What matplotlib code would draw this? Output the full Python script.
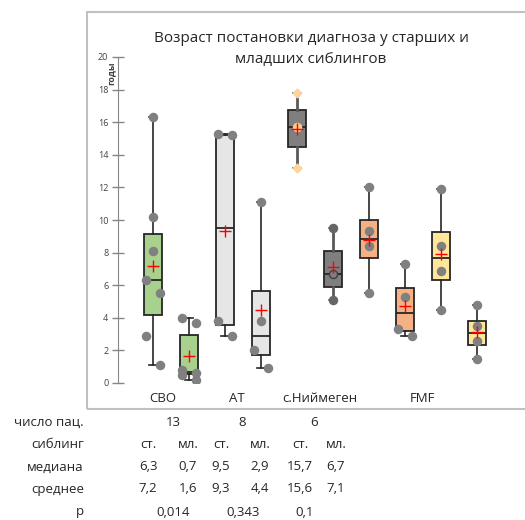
import numpy as np
import matplotlib
matplotlib.use('Agg')
from matplotlib import pyplot as plt
from matplotlib.patches import Rectangle

plt.rcParams['font.family'] = ['Open Sans', 'DejaVu Sans']

# возраст постановки диагноза (годы), ст. / мл. сиблинги
svo_st = [16.3, 10.2, 8.1, 6.3, 5.5, 2.9, 1.1]
svo_ml = [4.0, 3.7, 0.8, 0.6, 0.5, 0.2]
at_st = [15.3, 15.2, 3.8, 2.9]
at_ml = [11.1, 3.8, 2.0, 0.9]
nij_st = [17.8, 15.7, 13.2]
nij_ml = [9.5, 6.7, 5.1]
fmf_st = [12.0, 9.3, 8.4, 5.5]
fmf_ml = [7.3, 5.3, 3.3, 2.9]
fmf2_st = [11.9, 8.4, 6.9, 4.5]
fmf2_ml = [4.8, 3.5, 2.6, 1.5]

grupos = ['СВО', 'AT', 'с.Ниймеген', 'FMF']
filas = ['число пац.', 'сиблинг', 'медиана', 'среднее', 'p']
n_pac = ['13', '8', '6']
sibling = ['ст.', 'мл.', 'ст.', 'мл.', 'ст.', 'мл.']
mediana = ['6,3', '0,7', '9,5', '2,9', '15,7', '6,7']
media = ['7,2', '1,6', '9,3', '4,4', '15,6', '7,1']
p_val = ['0,014', '0,343', '0,1']

datos = [svo_st, svo_ml, at_st, at_ml, nij_st, nij_ml, fmf_st, fmf_ml, fmf2_st, fmf2_ml]

# desplazamiento lateral de los puntos (-1 izq, 0 centro, 1 der)
lados = [[0, 0, 0, -1, 1, -1, 1],
         [-1, 1, -1, 1, -1, 1],
         [-1, 1, -1, 1],
         [0, 0, -1, 1],
         [0, 0, 0],
         [0, 0, 0],
         [0, 0, 0, 0],
         [0, 0, -1, 1],
         [0, 0, 0, 0],
         [0, 0, 0, 0]]

colores = ['#a9d18e'] * 2 + ['#e7e6e6'] * 2 + ['#7f7f7f'] * 2 + ['#f4b183'] * 2 + ['#ffe699'] * 2

W, H = 525, 520
fig = plt.figure(figsize=(W / 100, H / 100), dpi=100)
fx = lambda x: x / W
fy = lambda y: 1 - y / H

ax = fig.add_axes([fx(118), fy(383), fx(510) - fx(118), fy(57) - fy(383)])

pos = np.arange(1, len(datos) + 1)
bp = ax.boxplot(datos, positions=pos, widths=0.5, whis=1.5, patch_artist=True,
                showfliers=False, capwidths=0.22,
                boxprops=dict(edgecolor='#262626', linewidth=1.3),
                medianprops=dict(color='#262626', linewidth=1.3),
                whiskerprops=dict(color='#262626', linewidth=1.2),
                capprops=dict(color='#262626', linewidth=1.2))
for i, caja in enumerate(bp['boxes']):
    caja.set_facecolor(colores[i])
for i in (4, 5):
    for w in bp['whiskers'][2 * i:2 * i + 2]:
        w.set_color('#595959')
        w.set_linewidth(2)
    for c in bp['caps'][2 * i:2 * i + 2]:
        c.set_color('#595959')

for i, d in enumerate(datos):
    xs = pos[i] + 0.2 * np.array(lados[i])
    if i == 4:
        ax.scatter(xs[[0, 2]], np.array(d)[[0, 2]], s=20, marker='D', color='#fdd49e', zorder=4)
        ax.scatter(xs[1], d[1], s=34, color='#fdc98c', zorder=4)
    elif i == 5:
        ax.scatter(xs[[0, 2]], np.array(d)[[0, 2]], s=34, color='#666666', zorder=4)
        ax.scatter(xs[1], d[1], s=34, facecolor='#7f7f7f', edgecolor='#404040', lw=1, zorder=4)
    else:
        ax.scatter(xs, d, s=34, color='#808080', zorder=4)

ax.plot(pos, [np.mean(d) for d in datos], 'r+', ms=8, mew=1, zorder=5)

ax.set_xlim(0.03, 10.92)
ax.set_ylim(0, 20)
ax.set_yticks(range(0, 21, 2))
ax.set_xticks([])
for s in ('top', 'right', 'bottom'):
    ax.spines[s].set_visible(False)
ax.spines['left'].set_color('#868686')
ax.tick_params(axis='y', direction='inout', length=8, width=1, color='#868686',
               labelsize=6.5, labelcolor='#404040', pad=3)
ax.patch.set_alpha(0)

fig.text(fx(111), fy(73), 'годы', rotation=90, fontsize=6.5, fontweight='bold',
         ha='center', va='center', color='#404040')

fig.text(fx(311), fy(49), 'Возраст постановки диагноза у старших и\nмладших сиблингов',
         ha='center', va='center', fontsize=11, linespacing=1.55, color='#262626')

# рамка диаграммы
fig.add_artist(Rectangle((fx(87), fy(409)), fx(600) - fx(87), fy(12) - fy(409),
                         transform=fig.transFigure, fill=False, edgecolor='#c0c0c0', lw=1.5))

# подписи групп
for g, x in zip(grupos, [163, 237, 320, 422]):
    fig.text(fx(x), fy(398), g, ha='center', va='center', fontsize=9.5, color='#262626')

# таблица под графиком
ys = [422, 444, 467, 489, 512]
for f, y in zip(filas, ys):
    fig.text(fx(84), fy(y), f, ha='right', va='center', fontsize=9.5, color='#262626')
for t, x in zip(n_pac, [173, 242, 314]):
    fig.text(fx(x), fy(ys[0]), t, ha='center', va='center', fontsize=9.5, color='#262626')
xcol = [148, 188, 221, 260, 300, 336]
for fila, y in zip([sibling, mediana, media], ys[1:4]):
    for t, x in zip(fila, xcol):
        fig.text(fx(x), fy(y), t, ha='center', va='center', fontsize=9.5, color='#262626')
for t, x in zip(p_val, [173, 243, 305]):
    fig.text(fx(x), fy(ys[4]), t, ha='center', va='center', fontsize=9.5, color='#262626')

plt.savefig('out.png', dpi=100)
